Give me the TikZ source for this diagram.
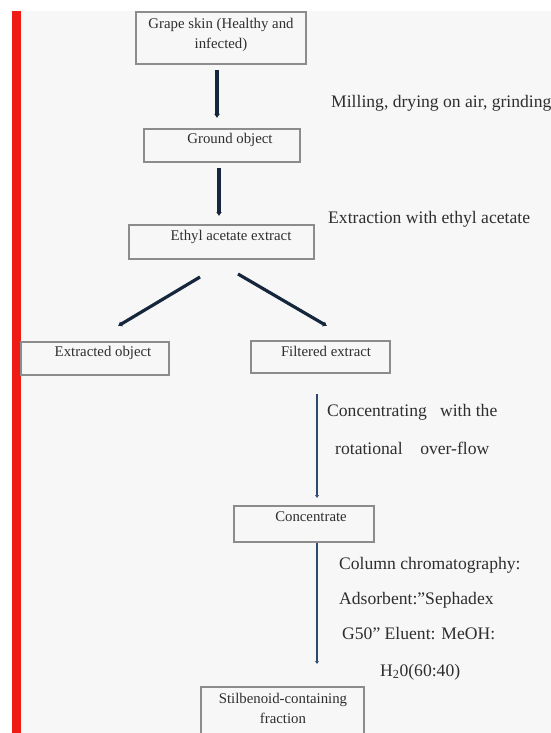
\documentclass[tikz,border=0pt]{standalone}
\usepackage{fontspec}
\setmainfont{Liberation Serif}
\usetikzlibrary{arrows.meta}
\definecolor{bg}{HTML}{F7F7F7}
\definecolor{redbar}{HTML}{EE1C14}
\definecolor{boxline}{HTML}{8C8C8C}
\definecolor{txtc}{HTML}{2E2E2E}
\definecolor{arrowc}{HTML}{15263D}
\definecolor{linec}{HTML}{2C4A70}
\tikzset{
  stagebox/.style={draw=boxline, line width=1.1pt, fill=none},
  boxtxt/.style={text=txtc, font=\fontsize{14.8}{20}\selectfont, inner sep=0pt, align=center},
  sidetxt/.style={text=txtc, font=\fontsize{17.6}{20}\selectfont, inner sep=0pt, anchor=west},
  thickarrow/.style={draw=arrowc, line width=3.2pt, -{Latex[length=4pt,width=6pt]}},
  thinarrow/.style={draw=linec, line width=2.2pt, -{Latex[length=3pt,width=4.5pt]}}
}
\begin{document}
\begin{tikzpicture}[x=1pt,y=-1pt]
\useasboundingbox (0,0) rectangle (551,733);
\fill[white] (0,0) rectangle (551,733);
\fill[bg] (21,11) rectangle (551,733);
\fill[redbar] (12,11) rectangle (21,733);
% boxes
\draw[stagebox] (136,12) rectangle (306,64);
\draw[stagebox] (144,129) rectangle (300,162);
\draw[stagebox] (129,225) rectangle (314,259);
\draw[stagebox] (21,342) rectangle (169,375);
\draw[stagebox] (251,341) rectangle (390,373);
\draw[stagebox] (234,506) rectangle (374,542);
\draw[stagebox] (201,687) rectangle (364,740);
% box texts
\node[boxtxt] (t1) at (221,35) {Grape skin (Healthy and\\infected)};
\node[boxtxt] (t2) at (230,140) {Ground object};
\node[boxtxt] (t3) at (231,237) {Ethyl acetate extract};
\node[boxtxt] (t4) at (103,353) {Extracted object};
\node[boxtxt] (t5) at (326,351) {Filtered extract};
\node[boxtxt] (t6) at (311,517) {Concentrate};
\node[boxtxt] (t7) at (283,708) {Stilbenoid-containing\\fraction};
% arrow end points
\coordinate (a1s) at (217,70);  \coordinate (a1e) at (217,118);
\coordinate (a2s) at (219,168); \coordinate (a2e) at (219,216);
\coordinate (a3s) at (200,277); \coordinate (a3e) at (118,326);
\coordinate (a4s) at (238,274); \coordinate (a4e) at (327,326);
\coordinate (a5s) at (317,394); \coordinate (a5e) at (317,498);
\coordinate (a6s) at (317,543); \coordinate (a6e) at (317,664);
\draw[thickarrow] (a1s) -- (a1e);
\draw[thickarrow] (a2s) -- (a2e);
\draw[thickarrow] (a3s) -- (a3e);
\draw[thickarrow] (a4s) -- (a4e);
\draw[thinarrow] (a5s) -- (a5e);
\draw[thinarrow] (a6s) -- (a6e);
% side texts
\node[sidetxt] (s1) at (331,103) {Milling, drying on air, grinding};
\node[sidetxt] (s2) at (328,219) {Extraction with ethyl acetate};
\node[sidetxt] (s3) at (327,412) {Concentrating~~ with the};
\node[sidetxt] (s4) at (335,448) {rotational~~~ over-flow};
\node[sidetxt] (s5) at (339,565) {Column chromatography:};
\node[sidetxt] (s6) at (339,600) {Adsorbent:"Sephadex};
\node[sidetxt] (s7) at (342,634) {G50" Eluent: MeOH:};
\node[sidetxt] (s8) at (380,672) {H\textsubscript{2}0(60:40)};
\end{tikzpicture}
\end{document}
